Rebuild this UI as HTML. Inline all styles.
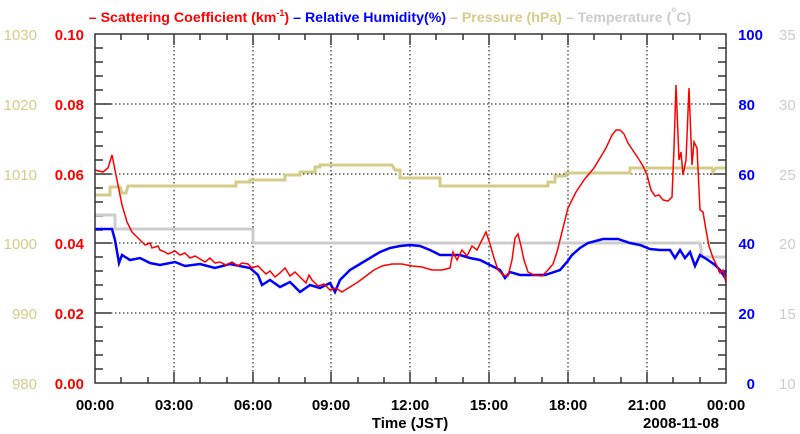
<!DOCTYPE html>
<html><head><meta charset="utf-8"><style>
html,body{margin:0;padding:0;background:#fff;}
svg{display:block;font-family:"Liberation Sans",sans-serif;}
</style></head><body>
<svg width="800" height="434" viewBox="0 0 800 434" xmlns="http://www.w3.org/2000/svg">
<text x="390" y="22" text-anchor="middle" font-size="14.2" font-weight="bold">
<tspan fill="#ff0000">– Scattering Coefficient (km<tspan font-size="9" dy="-6">-1</tspan><tspan dy="6">)</tspan></tspan>
<tspan fill="#0000ff"> – Relative Humidity(%)</tspan>
<tspan fill="#d4cc88"> – Pressure (hPa)</tspan>
<tspan fill="#cccccc"> – Temperature (</tspan><tspan fill="#cccccc" font-size="8" dy="-10">o</tspan><tspan fill="#cccccc" dy="10">C)</tspan>
</text>
<g stroke="#000" stroke-width="1" stroke-dasharray="1.5,2.5">
<line x1="174" y1="34" x2="174" y2="383"/><line x1="253" y1="34" x2="253" y2="383"/>
<line x1="331" y1="34" x2="331" y2="383"/><line x1="410" y1="34" x2="410" y2="383"/>
<line x1="489" y1="34" x2="489" y2="383"/><line x1="568" y1="34" x2="568" y2="383"/>
<line x1="647" y1="34" x2="647" y2="383"/>
<line x1="95" y1="104" x2="726" y2="104"/><line x1="95" y1="174" x2="726" y2="174"/>
<line x1="95" y1="243" x2="726" y2="243"/><line x1="95" y1="313" x2="726" y2="313"/>
</g>
<g stroke="#333" stroke-width="1.5">
<path d="M95 48h8M95 62h8M95 76h8M95 90h8M95 118h8M95 132h8M95 146h8M95 160h8M95 188h8M95 202h8M95 216h8M95 230h8M95 257h8M95 271h8M95 285h8M95 299h8M95 327h8M95 341h8M95 355h8M95 369h8M95 104h16M95 174h16M95 243h16M95 313h16"/>
<path d="M726 48h-8M726 62h-8M726 76h-8M726 90h-8M726 118h-8M726 132h-8M726 146h-8M726 160h-8M726 188h-8M726 202h-8M726 216h-8M726 230h-8M726 257h-8M726 271h-8M726 285h-8M726 299h-8M726 327h-8M726 341h-8M726 355h-8M726 369h-8M726 104h-16M726 174h-16M726 243h-16M726 313h-16"/>
<path d="M121 383v-6M148 383v-6M200 383v-6M227 383v-6M279 383v-6M305 383v-6M358 383v-6M384 383v-6M436 383v-6M463 383v-6M515 383v-6M542 383v-6M594 383v-6M621 383v-6M673 383v-6M700 383v-6M174 383v-11M253 383v-11M331 383v-11M410 383v-11M489 383v-11M568 383v-11M647 383v-11"/>
<path d="M121 34v6M148 34v6M200 34v6M227 34v6M279 34v6M305 34v6M358 34v6M384 34v6M436 34v6M463 34v6M515 34v6M542 34v6M594 34v6M621 34v6M673 34v6M700 34v6M174 34v11M253 34v11M331 34v11M410 34v11M489 34v11M568 34v11M647 34v11"/>
</g>
<polyline fill="none" stroke="#cccccc" stroke-width="3" points="95,215 115,215 115,229 253,229 253,243 700,243 702,257 726,257"/>
<polyline fill="none" stroke="#d4cc88" stroke-width="3" points="95,195 110,195 110,187 120,187 122,193 126,193 128,186 236,186 236,182 250,182 250,180 285,180 285,175 300,175 300,172 315,172 315,167 320,167 320,165 392,165 395,170 400,170 400,178 440,178 440,186 548,186 548,182 555,182 555,176 566,176 566,173 630,173 630,168 712,168 713,172 716,168 726,168"/>
<polyline fill="none" stroke="#0000ff" stroke-width="2.5" points="95,229 112,229 115,240 119,263 122,255 130,260 140,258 150,263 160,265 175,262 185,266 200,264 215,268 230,264 250,268 258,275 262,285 270,280 280,287 290,282 300,292 310,285 320,288 330,283 335,292 340,280 350,270 360,264 370,258 380,252 390,248 400,246 410,245 420,246 430,250 440,255 460,255 470,258 480,260 490,265 500,270 505,278 510,272 520,275 545,275 560,270 567,262 572,255 580,248 588,243 603,239 618,239 630,243 640,245 650,249 660,250 670,250 675,258 680,250 685,258 690,252 695,266 700,255 708,260 715,265 720,270 724,276 726,270"/>
<polyline fill="none" stroke="#ff0000" stroke-width="1.5" points="95,170 103,172 108,168 112,155 115,170 118,185 122,205 127,222 132,232 138,238 145,245 150,243 152,248 158,246 160,250 165,252 168,254 175,251 180,255 185,253 190,258 195,256 200,259 205,262 210,258 215,263 220,262 226,265 232,262 238,266 242,263 248,264 252,268 258,266 262,270 266,274 270,271 275,277 280,273 285,268 290,276 295,272 300,277 306,283 309,275 312,280 318,286 324,284 330,290 336,288 342,292 350,287 358,282 366,276 374,270 382,266 392,264 402,264 412,266 422,267 432,270 442,270 450,268 453,252 457,260 462,250 467,256 472,246 477,250 482,240 486,232 490,244 494,258 498,270 503,275 508,276 512,260 515,238 518,234 521,246 524,260 528,272 534,275 542,276 548,270 553,264 557,252 561,236 565,220 568,208 572,200 576,192 580,186 584,180 589,174 594,168 600,158 606,148 612,135 616,130 620,130 624,134 628,143 632,149 638,158 643,166 647,175 651,190 655,196 659,195 663,200 668,201 672,197 674,148 676,85 679,160 681,152 683,175 686,160 689,88 692,165 694,142 697,148 700,210 703,212 706,230 709,246 713,258 717,266 720,273 723,270 726,283"/>
<rect x="95" y="34" width="631" height="349" fill="none" stroke="#333" stroke-width="1.5"/>
<g font-size="15" font-weight="bold" fill="#ff0000" text-anchor="end">
<text x="84" y="40">0.10</text><text x="84" y="110">0.08</text><text x="84" y="180">0.06</text>
<text x="84" y="249">0.04</text><text x="84" y="319">0.02</text><text x="84" y="389">0.00</text>
</g>
<g font-size="15" fill="#d4cc88" text-anchor="end">
<text x="37" y="40">1030</text><text x="37" y="110">1020</text><text x="37" y="180">1010</text>
<text x="37" y="249">1000</text><text x="37" y="319">990</text><text x="37" y="389">980</text>
</g>
<g font-size="15" font-weight="bold" fill="#0000ff" text-anchor="end">
<text x="763" y="40">100</text><text x="755" y="110">80</text><text x="755" y="180">60</text>
<text x="755" y="249">40</text><text x="755" y="319">20</text><text x="755" y="389">0</text>
</g>
<g font-size="15" fill="#cccccc" text-anchor="start">
<text x="779" y="40">35</text><text x="779" y="110">30</text><text x="779" y="180">25</text>
<text x="779" y="249">20</text><text x="779" y="319">15</text><text x="779" y="389">10</text>
</g>
<g font-size="15" font-weight="bold" fill="#000" text-anchor="middle">
<text x="95" y="410">00:00</text><text x="174" y="410">03:00</text><text x="253" y="410">06:00</text>
<text x="331" y="410">09:00</text><text x="410" y="410">12:00</text><text x="489" y="410">15:00</text>
<text x="568" y="410">18:00</text><text x="647" y="410">21:00</text><text x="726" y="410">00:00</text>
<text x="410" y="428">Time (JST)</text>
<text x="681" y="428">2008-11-08</text>
</g>
</svg>
</body></html>
